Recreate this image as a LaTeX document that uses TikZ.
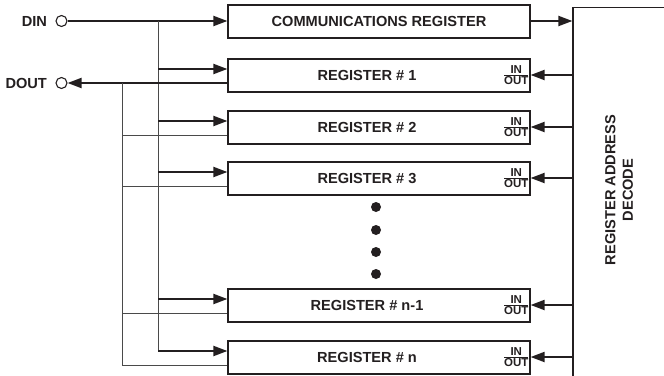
\documentclass[tikz,border=0pt]{standalone}
\usepackage{fontspec}
\setmainfont{Liberation Sans}
\usepackage{xcolor}
\usetikzlibrary{arrows.meta,positioning,calc}
\definecolor{ink}{HTML}{231F20}
\definecolor{wire}{HTML}{4A4A4A}

\begin{document}
\begin{tikzpicture}[
    x=1pt, y=-1pt,
    font=\fontsize{14.6}{17.5}\selectfont\bfseries, text=ink,
    regbox/.style={rectangle, draw=ink, line width=1.2pt, minimum width=302pt, minimum height=33pt, inner sep=0pt},
    pin/.style={circle, draw=ink, line width=1.1pt, minimum size=11pt, inner sep=0pt},
    inout/.style={font=\fontsize{11.5}{12}\selectfont\bfseries, inner sep=0pt, anchor=east},
    arrow/.style={-{Triangle[length=14pt,width=10pt]}, line width=2pt, draw=ink},
    bus/.style={line width=2pt, draw=ink},
    thin/.style={line width=1pt, draw=wire},
]
\useasboundingbox (0,0) rectangle (664,375);
\clip (0,0) rectangle (664,375);

\node[pin] (din)  at (61.5,21) {};
\node[pin] (dout) at (61.5,83) {};
\node[left=5pt of din]  {DIN};
\node[left=5pt of dout] {DOUT};

\node[regbox] (comm)  at (379,21.5)  {COMMUNICATIONS REGISTER};
\node[regbox] (reg1)  at (379,75.5)  {};
\node[regbox] (reg2)  at (379,127.5) {};
\node[regbox] (reg3)  at (379,178.5) {};
\node[regbox] (regn1) at (379,305.5) {};
\node[regbox] (regn)  at (379,357.5) {};
\node[rectangle, draw=ink, line width=1.2pt, minimum width=110pt, minimum height=385pt] (decode) at (628,200) {};
\node[rotate=90, align=center] (declabel) at (619,190) {REGISTER ADDRESS\\DECODE};

% register labels and IN/OUT tags
\foreach \r/\t in {reg1/1, reg2/2, reg3/3, regn1/n-1, regn/n}{
  \node at ([xshift=-12pt]\r.center) {REGISTER \# \t};
  \node[inout] at ([xshift=-2pt,yshift=-1pt]\r.east)
    {\begin{tabular}{@{}c@{}}IN\\[-2.5pt]\hline\noalign{\vskip1pt}OUT\end{tabular}};
  \coordinate (\r-in)  at ([yshift=6.5pt]\r.west);
  \coordinate (\r-out) at ([yshift=-7.5pt]\r.west);
  \coordinate (\r-dec) at ([yshift=0.5pt]\r.east);
}

\foreach \y in {207,230,252,274}
  \fill[ink] (376,\y) circle (5pt);

% DIN side
\coordinate (tap) at (158,21);
\draw[bus] (din) -- (tap);
\draw[arrow] (tap) -- (comm.west |- tap);
\draw[thin] (tap) -- (tap |- regn-in);
\foreach \r in {reg1,reg2,reg3,regn1,regn}
  \draw[arrow] (tap |- \r-in) -- (\r-in);

% DOUT side
\coordinate (otap) at (122,83);
\draw[arrow] (reg1-out) -- (dout);
\draw[thin] (otap) -- (otap |- regn-out);
\foreach \r in {reg2,reg3,regn1,regn}
  \draw[thin] (otap |- \r-out) -- (\r-out);

% decode lines
\coordinate (comm-dec) at ([yshift=0.5pt]comm.east);
\draw[arrow] (comm-dec) -- (decode.west |- comm-dec);
\foreach \r in {reg1,reg2,reg3,regn1,regn}
  \draw[arrow] (decode.west |- \r-dec) -- (\r-dec);
\end{tikzpicture}
\end{document}
